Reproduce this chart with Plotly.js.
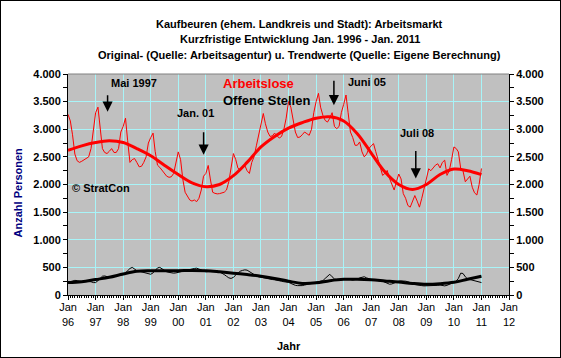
<!DOCTYPE html>
<html>
<head>
<meta charset="utf-8">
<script src="https://cdn.plot.ly/plotly-3.0.1.min.js"></script>
<style>
html,body{margin:0;padding:0;background:#fff;}
#frame{position:absolute;left:0;top:0;width:559px;height:356px;border:1px solid #000;}
#chart{width:559px;height:356px;}
</style>
</head>
<body>
<div id="frame"><div id="chart"></div></div>
<script>
// Monthly original values, Jan 1996 - Jan 2011
const arbeitslose = [
  3270,3150,2900,2550,2430,2400,2420,2450,2470,2500,2650,3000,
  3300,3400,3000,2650,2580,2560,2600,2650,2580,2580,2650,2950,
  3050,3200,2800,2400,2450,2470,2400,2320,2330,2400,2500,2750,
  2850,2930,2600,2350,2310,2250,2200,2150,2130,2140,2200,2400,
  2590,2450,2100,1860,1780,1720,1700,1720,1690,1750,1900,2150,
  2200,2345,2100,1860,1840,1830,1835,1850,1860,1900,2050,2300,
  2560,2450,2300,2255,2300,2345,2250,2200,2400,2500,2700,2900,
  3100,3285,3100,2950,2870,2880,2930,2880,2840,2870,3000,3200,
  3500,3400,3150,2950,2850,2860,2900,2950,2920,2890,3000,3300,
  3500,3650,3400,3250,3160,3130,3200,3300,3050,3010,3050,3300,
  3450,3620,3300,2950,2850,2710,2710,2770,2590,2500,2550,2650,
  2700,2740,2600,2440,2300,2165,2200,2255,2110,2000,1900,2050,
  2190,2100,1835,1750,1620,1590,1700,1800,1700,1590,1750,1900,
  2100,2285,2250,2300,2350,2375,2300,2400,2440,2165,2250,2450,
  2680,2650,2590,2290,2250,2050,2100,2150,1950,1850,1810,2000,
  2290
];
const offeneStellen = [
  230,245,255,265,260,250,245,250,250,245,240,225,
  225,260,300,340,345,330,320,330,340,345,350,360,
  370,400,440,480,500,470,440,430,420,410,400,390,
  375,400,450,490,500,470,440,420,410,400,395,400,
  410,420,440,450,460,470,475,480,485,470,450,430,
  420,425,430,440,445,440,420,400,370,340,310,300,
  320,360,400,430,445,455,450,420,390,360,345,330,
  320,310,300,290,285,280,275,270,260,250,240,235,
  230,210,190,175,170,165,170,180,190,200,210,220,
  230,240,250,260,300,340,375,330,290,280,280,285,
  290,290,285,280,270,275,290,310,320,330,310,290,
  280,275,265,260,255,250,230,210,195,200,220,240,
  250,255,255,250,240,230,210,190,180,175,170,165,
  165,170,175,170,170,175,180,170,165,175,190,210,
  230,250,300,395,390,330,290,280,270,260,250,240,
  225
];
// Trend values, every 6 months (Jan / Jul), Jan 1996 - Jan 2011
const trendArbeitslose = [
  2620,2700,2760,2790,2760,2650,2520,2350,2180,2030,1960,2000,2160,2400,2680,2870,
  3020,3120,3200,3225,3150,2920,2570,2230,2000,1910,2000,2180,2280,2250,2180
];
const trendOffene = [
  225,240,280,320,380,430,440,440,440,445,440,420,395,370,340,300,
  250,210,220,260,285,285,275,255,235,210,195,205,230,285,340
];
const yTicks = [0,500,1000,1500,2000,2500,3000,3500,4000];

function monthDate(i){
  const y = 1996 + Math.floor(i/12), m = (i%12)+1;
  return y + '-' + (m<10?'0':'') + m + '-01';
}
const xMonthly = arbeitslose.map((_,i)=>monthDate(i));
const xTrend = trendArbeitslose.map((_,i)=>monthDate(i*6));

const FONT = 'Liberation Sans, Arial, sans-serif';
const traces = [
  {x:xMonthly, y:arbeitslose, type:'scatter', mode:'lines', line:{color:'#ff0000', width:1}, hoverinfo:'skip'},
  {x:xTrend, y:trendArbeitslose, type:'scatter', mode:'lines', line:{color:'#ff0000', width:3, shape:'spline'}, hoverinfo:'skip'},
  {x:xMonthly, y:offeneStellen, type:'scatter', mode:'lines', line:{color:'#000000', width:1}, hoverinfo:'skip'},
  {x:xTrend, y:trendOffene, type:'scatter', mode:'lines', line:{color:'#000000', width:3, shape:'spline'}, hoverinfo:'skip'},
  {x:[xMonthly[0]], y:[0], yaxis:'y2', type:'scatter', mode:'markers', marker:{opacity:0}, hoverinfo:'skip'}
];

// plot area in image px: left 68, right 508, top 74, bottom 294
const PX = x => (x-68)/440, PY = y => (294-y)/220;
function txt(t,x,y,size,color,extra){
  return Object.assign({text:t, xref:'paper', yref:'paper', x:PX(x), y:PY(y), showarrow:false,
    xanchor:'center', yanchor:'middle', font:{family:FONT, size:size, color:color, weight:'bold'}}, extra||{});
}
function arrow(x,yTip,len){
  return {text:'', xref:'paper', yref:'paper', x:PX(x), y:PY(yTip), showarrow:true,
    ax:0, ay:-len, arrowhead:2, arrowsize:1.35, arrowwidth:1.5, arrowcolor:'#000', standoff:0};
}

const layout = {
  width:559, height:356,
  margin:{l:67, r:51, t:73, b:62, pad:0},
  paper_bgcolor:'#ffffff', plot_bgcolor:'#c0c0c0',
  separators:',.',
  showlegend:false,
  xaxis:{
    type:'date', range:['1996-01-01','2012-01-01'], tick0:'1996-01-01', dtick:'M12',
    tickformat:'%b<br>%y', ticks:'outside', ticklen:4, tickcolor:'#000', ticklabelstandoff:-2,
    showline:true, linecolor:'#000', linewidth:1, zeroline:false,
    showgrid:true, gridcolor:'#a8f4f8', gridwidth:1,
    tickfont:{family:FONT, size:11, color:'#000'},
    minor:{dtick:'M1', ticks:'outside', ticklen:2, tickcolor:'#000', showgrid:false},
    fixedrange:true
  },
  yaxis:{
    range:[0,4000], tickvals:yTicks, tickformat:',d', ticks:'outside', ticklen:4, tickcolor:'#000',
    showline:true, linecolor:'#000', linewidth:1, zeroline:false,
    showgrid:true, gridcolor:'#a8f4f8', gridwidth:1,
    tickfont:{family:FONT, size:11, color:'#000', weight:'bold'},
    minor:{dtick:250, ticks:'outside', ticklen:4, tickcolor:'#000', showgrid:false},
    fixedrange:true
  },
  yaxis2:{
    overlaying:'y', side:'right', range:[0,4000], tickvals:yTicks, tickformat:',d',
    ticks:'outside', ticklen:4, tickcolor:'#000',
    showline:true, linecolor:'#000', linewidth:1, zeroline:false, showgrid:false,
    tickfont:{family:FONT, size:11, color:'#000', weight:'bold'},
    minor:{dtick:250, ticks:'outside', ticklen:4, tickcolor:'#000', showgrid:false},
    fixedrange:true
  },
  shapes:[
    {type:'line', xref:'paper', yref:'paper', x0:0, x1:1, y0:1, y1:1, line:{color:'#808080', width:1}}
  ],
  annotations:[
    txt('Kaufbeuren (ehem. Landkreis und Stadt): Arbeitsmarkt', 299, 24, 11, '#000'),
    txt('Kurzfristige Entwicklung Jan. 1996 - Jan. 2011', 299, 39.5, 11, '#000'),
    txt('Original- (Quelle: Arbeitsagentur) u. Trendwerte (Quelle: Eigene Berechnung)', 299, 55.5, 11, '#000'),
    txt('Mai 1997', 134, 83, 11, '#000'),
    txt('Jan. 01', 195.5, 113, 11, '#000'),
    txt('Juni 05', 366, 82, 11, '#000'),
    txt('Juli 08', 416, 132.5, 11, '#000'),
    txt('Arbeitslose', 221, 83, 13, '#ff0000', {xanchor:'left'}),
    txt('Offene Stellen', 221, 100, 13, '#000', {xanchor:'left'}),
    txt('© StratCon', 70, 187, 11, '#000', {xanchor:'left'}),
    txt('Jahr', 288, 345, 11, '#000'),
    txt('Anzahl Personen', 18, 192, 11, '#000080', {textangle:-90}),
    arrow(107.5, 111.5, 18),
    arrow(203.3, 154.3, 24),
    arrow(333.3, 105, 26),
    arrow(415, 178, 29)
  ]
};

Plotly.newPlot('chart', traces, layout, {staticPlot:true, displayModeBar:false});
</script>
</body>
</html>
